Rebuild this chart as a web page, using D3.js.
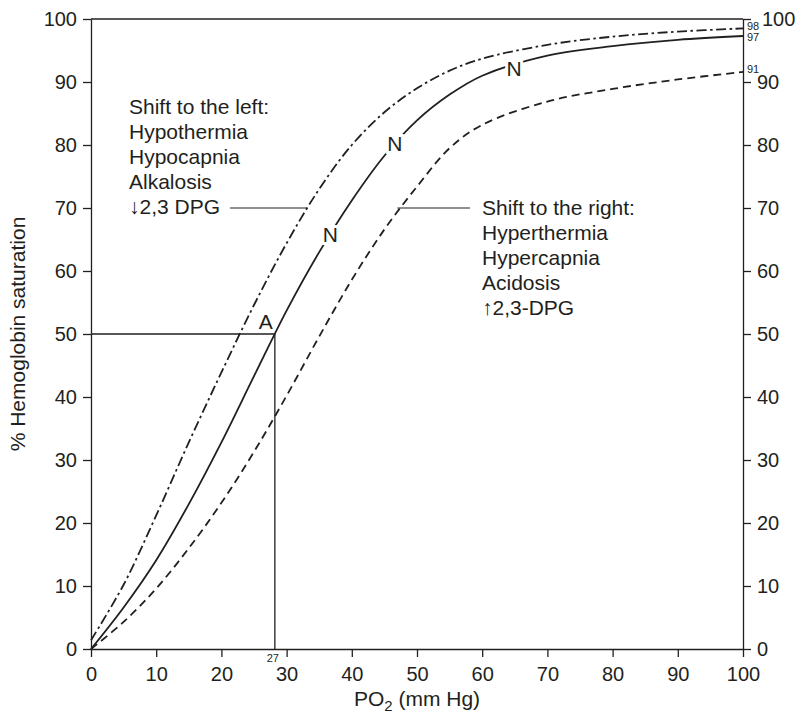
<!DOCTYPE html>
<html>
<head>
<meta charset="utf-8">
<script src="https://cdn.jsdelivr.net/npm/d3@7"></script>
<style>
  body { margin: 0; background: #fff; }
  svg text { font-family: "Liberation Sans", Arial, Helvetica, sans-serif; fill: #231f20; }
  .axis path, .axis line { stroke: #231f20; stroke-width: 1.3; }
  .axis text { font-size: 20px; }
</style>
</head>
<body>
<svg id="chart" width="796" height="715"></svg>
<script>
// PO2 grid (mm Hg) and % saturation
const po2 = [0, 5, 10, 15, 20, 25, 30, 35, 40, 45, 50, 55, 60, 70, 80, 90, 100];
const satNormal = [0, 6.6, 14.1, 23.0, 32.8, 43.3, 53.7, 63.0, 71.2, 78.3, 83.9, 88.0, 91.0, 94.2, 95.7, 96.7, 97.3];
const satLeft = [1.4, 10.2, 21.2, 32.8, 43.9, 54.6, 64.4, 73.0, 80.0, 85.2, 89.0, 91.8, 93.7, 95.9, 97.2, 98.0, 98.5];
const satRight = [0, 4.3, 9.6, 16.0, 23.2, 31.3, 40.2, 49.6, 58.6, 66.6, 73.4, 79.5, 83.2, 86.9, 88.9, 90.4, 91.6];
const endLabels = ['98', '97', '91'];

const xTicks = [0, 10, 20, 30, 40, 50, 60, 70, 80, 90, 100];
const yTicks = [0, 10, 20, 30, 40, 50, 60, 70, 80, 90, 100];

// P50 of the normal curve
const p50 = 28.2;
const p50Label = '27';

// "N" markers on the normal curve
const nPo2 = [36.7, 46.6, 64.9];
const nSat = [65.8, 80.3, 92.1];

const leftShiftText = ['Shift to the left:', 'Hypothermia', 'Hypocapnia', 'Alkalosis', '\u21932,3 DPG'];
const rightShiftText = ['Shift to the right:', 'Hyperthermia', 'Hypercapnia', 'Acidosis', '\u21912,3-DPG'];
const leaderSat = 70;
const leaderLeftPo2 = 33.1;
const leaderRightPo2 = 47.0;

const margin = { top: 19, right: 53, bottom: 66, left: 91 };
const width = 796 - margin.left - margin.right;
const height = 715 - margin.top - margin.bottom;
const ink = '#231f20';

const svg = d3.select('#chart');
const g = svg.append('g').attr('transform', `translate(${margin.left},${margin.top})`);

const x = d3.scaleLinear().domain([0, 100]).range([0, width]);
const y = d3.scaleLinear().domain([0, 100]).range([height, 0]);

// axes
g.append('g').attr('class', 'axis')
    .call(d3.axisLeft(y).tickValues(yTicks).tickSizeInner(8).tickSizeOuter(0).tickPadding(6));

const rightAxis = g.append('g').attr('class', 'axis')
    .attr('transform', `translate(${width},0)`)
    .call(d3.axisRight(y).tickValues(yTicks).tickSizeInner(8).tickSizeOuter(0).tickPadding(6));
// the top label is nudged right to clear the small "98"
rightAxis.selectAll('.tick text').filter(d => d === 100).attr('x', 19);

g.append('g').attr('class', 'axis')
    .attr('transform', `translate(0,${height})`)
    .call(d3.axisBottom(x).tickValues(xTicks).tickSizeInner(8).tickSizeOuter(0).tickPadding(10));

g.append('line')
    .attr('x1', 0).attr('x2', width)
    .attr('y1', 0).attr('y2', 0)
    .attr('stroke', ink).attr('stroke-width', 1.3);

// P50 guide lines
g.append('path')
    .attr('d', `M0,${y(50)}H${x(p50)}V${y(0)}`)
    .attr('fill', 'none')
    .attr('stroke', ink)
    .attr('stroke-width', 1.3);

g.append('text')
    .attr('x', x(p50) - 2)
    .attr('y', y(0) + 13)
    .attr('text-anchor', 'middle')
    .style('font-size', '11px')
    .text(p50Label);

g.append('text')
    .attr('x', x(p50) - 9)
    .attr('y', y(50) - 5)
    .attr('text-anchor', 'middle')
    .style('font-size', '21px')
    .text('A');

// curves
const line = d3.line()
    .x(d => x(d[0]))
    .y(d => y(d[1]))
    .curve(d3.curveCatmullRom.alpha(0.5));

const curves = [
    { values: satLeft, dash: '10,3.5,2.5,3.5', endDy: 1.5 },
    { values: satNormal, dash: null, endDy: 5 },
    { values: satRight, dash: '8,5', endDy: 1 }
];

curves.forEach((c, i) => {
    g.append('path')
        .datum(po2.map((p, j) => [p, c.values[j]]))
        .attr('d', line)
        .attr('fill', 'none')
        .attr('stroke', ink)
        .attr('stroke-width', 1.8)
        .attr('stroke-dasharray', c.dash);

    g.append('text')
        .attr('x', width + 4)
        .attr('y', y(c.values[c.values.length - 1]) + c.endDy)
        .style('font-size', '11px')
        .text(endLabels[i]);
});

// N markers
g.selectAll('.nlabel')
    .data(nPo2)
    .enter()
    .append('text')
    .attr('class', 'nlabel')
    .attr('x', d => x(d))
    .attr('y', (d, i) => y(nSat[i]))
    .attr('dy', '0.36em')
    .attr('text-anchor', 'middle')
    .style('font-size', '21px')
    .style('stroke', '#fff')
    .style('stroke-width', 6)
    .style('paint-order', 'stroke')
    .text('N');

// annotation blocks
const leaderY = y(leaderSat);

const leftBlock = g.append('text')
    .attr('x', 38)
    .style('font-size', '21px');
leftBlock.selectAll('tspan')
    .data(leftShiftText)
    .enter()
    .append('tspan')
    .attr('x', 38)
    .attr('y', (d, i) => leaderY + 6 - 25 * (leftShiftText.length - 1 - i))
    .text(d => d);

const lastLeft = leftBlock.selectAll('tspan').nodes()[leftShiftText.length - 1];
const lastLeftEnd = 38 + lastLeft.getComputedTextLength();

g.append('line')
    .attr('x1', lastLeftEnd + 10).attr('x2', x(leaderLeftPo2))
    .attr('y1', leaderY).attr('y2', leaderY)
    .attr('stroke', ink).attr('stroke-width', 1.2);

const rightX = 391;
const rightBlock = g.append('text')
    .attr('x', rightX)
    .style('font-size', '21px');
rightBlock.selectAll('tspan')
    .data(rightShiftText)
    .enter()
    .append('tspan')
    .attr('x', rightX)
    .attr('y', (d, i) => leaderY + 7 + 25 * i)
    .text(d => d);

g.append('line')
    .attr('x1', x(leaderRightPo2)).attr('x2', rightX - 12)
    .attr('y1', leaderY).attr('y2', leaderY)
    .attr('stroke', ink).attr('stroke-width', 1.2);

// axis titles
svg.append('text')
    .attr('transform', 'rotate(-90)')
    .attr('x', -(margin.top + height / 2))
    .attr('y', 25)
    .attr('text-anchor', 'middle')
    .style('font-size', '21px')
    .text('% Hemoglobin saturation');

const xTitle = svg.append('text')
    .attr('x', margin.left + width / 2)
    .attr('y', 706)
    .attr('text-anchor', 'middle')
    .style('font-size', '21px');
xTitle.append('tspan').text('PO');
xTitle.append('tspan').attr('baseline-shift', '-5').style('font-size', '15px').text('2');
xTitle.append('tspan').text(' (mm Hg)');
</script>
</body>
</html>
